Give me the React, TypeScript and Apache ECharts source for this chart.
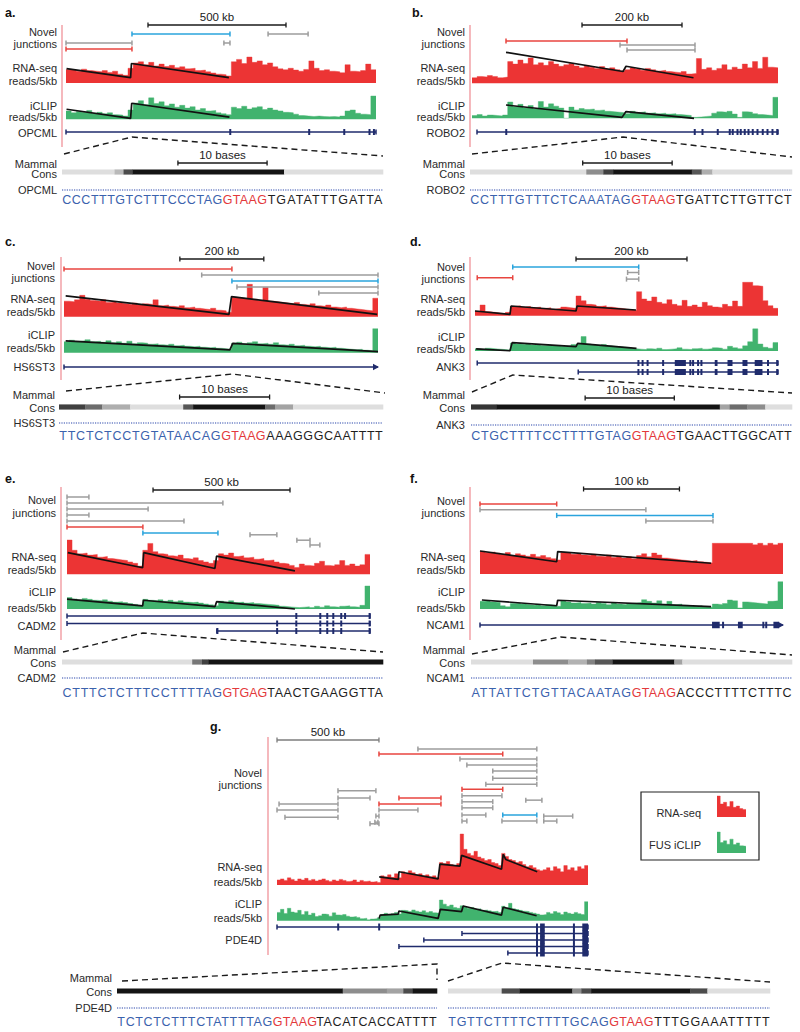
import React, { useEffect, useRef } from 'react';
import * as echarts from 'echarts';

// ================= DATA =================
// junction type: 0 = novel (grey), 1 = red, 2 = blue
// ---- a. OPCML ----
const aScaleKb = [297, 797];
const aJunctions = [[239, 594, 0, 2], [732, 877, 0, 0], [0, 239, 1.2, 0], [572, 594, 1.2, 0], [0, 239, 2, 1]];
const aRna = [46, 44, 40, 47, 42, 40, 38, 42, 36, 40, 30, 26, 50, 68, 72, 62, 70, 58, 64, 56, 60, 52, 55, 48, 50, 42, 44, 38, 34, 30, 28, 24, 72, 80, 66, 88, 70, 75, 62, 68, 55, 48, 45, 50, 44, 40, 46, 75, 50, 42, 45, 40, 38, 35, 62, 40, 38, 42, 64, 45];
const aIclip = [36, 28, 34, 30, 38, 26, 30, 24, 28, 20, 18, 14, 40, 70, 80, 62, 92, 68, 75, 58, 66, 52, 60, 48, 54, 40, 46, 36, 38, 28, 24, 20, 52, 46, 56, 44, 50, 54, 42, 48, 40, 36, 30, 28, 22, 16, 14, 12, 14, 12, 11, 12, 10, 14, 36, 40, 26, 22, 20, 100];
const aRnaFit = [[2, 49], [234, 18], [237, 66], [590, 18]];
const aIclipFit = [[2, 43], [234, 4], [238, 69], [592, 9]];
const aGenes = [[0, 1123, 0, 0]];
const aExons = [[594, 596, 0], [880, 882, 0], [1007, 1009, 0], [1098, 1101, 0], [1112, 1119, 0]];
const aCons = [[0, 5.9, 0.08], [5.9, 6.9, 0.25], [6.9, 7.9, 0.75], [7.9, 24.9, 1], [24.9, 36, 0.08]];
const aBaseScale = [13, 23];
const aSeq = ['CCCTTTGTCTTTCCCTAG', 'GTAAG', 'TGATATTTGATTA'];

// ---- b. ROBO2 ----
const bScaleKb = [220, 420];
const bJunctions = [[68, 310, 0, 1], [296, 446, 0.9, 0], [310, 446, 2, 0]];
const bRna = [18, 22, 20, 25, 22, 18, 20, 70, 62, 75, 64, 82, 60, 66, 58, 70, 62, 55, 60, 64, 56, 50, 58, 52, 48, 54, 46, 50, 44, 40, 44, 50, 46, 42, 48, 44, 40, 42, 38, 36, 34, 38, 30, 32, 80, 45, 50, 42, 48, 60, 44, 52, 46, 62, 50, 70, 48, 84, 52, 50];
const bIclip = [12, 16, 10, 14, 12, 10, 14, 70, 50, 60, 45, 55, 40, 72, 48, 62, 52, 44, 0, 48, 36, 42, 38, 40, 34, 36, 30, 28, 26, 24, 20, 30, 25, 28, 22, 24, 20, 22, 18, 20, 16, 14, 12, 4, 6, 8, 10, 22, 28, 26, 30, 18, 4, 28, 26, 20, 16, 14, 12, 90];
const bRnaFit = [[68, 100], [302, 38], [308, 55], [443, 18]];
const bIclipFit = [[68, 57], [300, 4], [308, 29], [444, 0]];
const bGenes = [[10, 612, 0, 0]];
const bExons = [[68, 69, 0], [444, 447, 0], [460, 462, 0], [490, 493, 0], [514, 517, 0], [520, 523, 0], [530, 532, 0], [536, 539, 0], [544, 547, 0], [552, 554, 0], [560, 563, 0], [570, 572, 0], [580, 583, 0], [590, 592, 0], [600, 602, 0], [609, 612, 0]];
const bCons = [[0, 13, 0.08], [13, 14.9, 0.45], [14.9, 16, 0.8], [16, 24.8, 1], [24.8, 25.9, 0.7], [25.9, 27.1, 0.3], [27.1, 36, 0.08]];
const bBaseScale = [12.6, 22.6];
const bSeq = ['CCTTTGTTTCTCAAATAG', 'GTAAG', 'TGATTCTTGTTCT'];

// ---- c. HS6ST3 ----
const cScaleKb = [276, 476];
const cJunctions = [[0, 400, 0, 1], [328, 748, 1, 0], [400, 748, 2, 2], [412, 748, 3, 0], [607, 748, 4, 0]];
const cRna = [48, 46, 52, 66, 54, 50, 48, 52, 44, 46, 42, 40, 38, 42, 36, 40, 38, 52, 34, 36, 32, 30, 34, 28, 30, 26, 24, 22, 26, 20, 18, 14, 60, 58, 56, 100, 54, 50, 90, 48, 46, 44, 42, 40, 44, 38, 36, 40, 34, 32, 36, 30, 28, 30, 26, 24, 22, 20, 18, 57];
const cIclip = [44, 50, 46, 48, 52, 44, 46, 42, 48, 40, 44, 38, 46, 36, 40, 38, 34, 36, 32, 30, 34, 28, 30, 26, 24, 26, 22, 20, 22, 18, 16, 14, 38, 42, 36, 40, 44, 36, 38, 34, 40, 32, 30, 34, 28, 30, 26, 24, 26, 22, 20, 22, 18, 16, 14, 12, 14, 10, 8, 96];
const cRnaFit = [[4, 64], [393, 7], [399, 62], [746, 7]];
const cIclipFit = [[4, 47], [395, 11], [402, 37], [748, 4]];
const cGenes = [[0, 748, 0, 1]];
const cExons: number[][] = [];
const cCons = [[0, 2.9, 0.8], [2.9, 4.8, 0.6], [4.8, 7.9, 0.3], [7.9, 13.8, 0.08], [13.8, 14.9, 0.7], [14.9, 22.9, 1], [22.9, 24, 0.6], [24, 26, 0.35], [26, 36, 0.08]];
const cBaseScale = [13.4, 23.4];
const cSeq = ['TTCTCTCCTGTATAACAG', 'GTAAG', 'AAAGGGCAATTTT'];

// ---- d. ANK3 ----
const dScaleKb = [182, 382];
const dJunctions = [[68, 295, 0, 2], [275, 295, 1, 0], [4, 68, 1.95, 1], [273, 295, 2.2, 0]];
const dRna = [14, 32, 12, 10, 8, 6, 10, 28, 30, 26, 28, 24, 26, 22, 24, 20, 22, 26, 24, 22, 59, 45, 34, 32, 28, 30, 26, 24, 22, 20, 18, 16, 72, 50, 44, 56, 40, 36, 48, 34, 30, 46, 28, 32, 26, 40, 30, 26, 24, 34, 28, 44, 28, 100, 100, 90, 88, 45, 30, 22];
const dIclip = [10, 8, 12, 10, 8, 6, 4, 34, 30, 28, 32, 26, 28, 24, 26, 22, 24, 20, 22, 28, 30, 62, 30, 26, 24, 28, 22, 20, 18, 16, 14, 10, 8, 6, 10, 8, 12, 6, 8, 10, 14, 8, 6, 10, 12, 8, 10, 14, 12, 8, 20, 14, 10, 22, 40, 95, 30, 16, 12, 36];
const dRnaFit = [[0, 14], [63, 4], [65, 29], [182, 14], [184, 29], [290, 17]];
const dIclipFit = [[2, 9], [63, 1], [67, 36], [182, 19], [185, 33], [291, 11]];
const dGenes = [[4, 546, 0, 0], [186, 546, 1, 0]];
const dExonSpans = [[293, 296], [301, 303], [310, 312], [338, 340], [360, 380], [387, 389], [392, 394], [401, 403], [407, 409], [432, 437], [455, 464], [482, 491], [504, 518], [527, 529], [543, 546]];
const dCons = [[0, 2.9, 0.85], [2.9, 27.9, 1], [27.9, 29, 0.35], [29, 31, 0.6], [31, 33, 0.45], [33, 36, 0.08]];
const dBaseScale = [12.8, 22.8];
const dSeq = ['CTGCTTTTCCTTTTGTAG', 'GTAAG', 'TGAACTTGGCATT'];

// ---- e. CADM2 ----
const eScaleKb = [314, 814];
const eJunctions = [[0, 80, 0, 0], [0, 569, 1, 0], [0, 296, 2, 0], [0, 80, 3, 0], [0, 427, 4, 0], [0, 277, 5, 1], [277, 551, 6, 2], [668, 766, 6.3, 0], [839, 887, 7.2, 0], [887, 923, 8, 0]];
const eRna = [100, 70, 60, 62, 56, 58, 50, 52, 46, 44, 42, 40, 36, 32, 24, 70, 90, 66, 60, 58, 54, 52, 56, 46, 44, 48, 40, 36, 32, 40, 60, 56, 62, 52, 54, 48, 50, 44, 46, 40, 42, 36, 32, 30, 26, 20, 30, 26, 24, 32, 38, 26, 24, 28, 40, 26, 30, 24, 28, 58];
const eIclip = [50, 44, 40, 46, 42, 38, 36, 40, 34, 30, 32, 28, 24, 20, 16, 42, 38, 36, 40, 34, 38, 32, 36, 30, 28, 30, 26, 22, 18, 14, 34, 30, 36, 28, 30, 26, 28, 24, 22, 20, 18, 16, 12, 10, 8, 6, 8, 10, 6, 12, 8, 14, 10, 8, 12, 14, 10, 8, 16, 100];
const eRnaFit = [[3, 63], [276, 19], [280, 63], [540, 17], [546, 53], [832, 10]];
const eIclipFit = [[0, 43], [276, 14], [279, 38], [540, 10], [546, 32], [832, 0]];
const eGenes = [[0, 1106, 0, 0], [0, 1106, 1, 0], [547, 1106, 2, 0]];
const eExons = [[836, 838, 0], [923, 926, 0], [949, 951, 0], [971, 973, 0], [1000, 1002, 0], [1014, 1016, 0], [1103, 1106, 0], [766, 768, 1], [836, 838, 1], [923, 926, 1], [949, 951, 1], [971, 973, 1], [1000, 1002, 1], [1103, 1106, 1], [547, 551, 2], [766, 768, 2], [836, 838, 2], [923, 926, 2], [949, 951, 2], [971, 973, 2], [1000, 1002, 2], [1103, 1106, 2]];
const eCons = [[0, 14.6, 0.08], [14.6, 15.7, 0.55], [15.7, 16.4, 0.8], [16.4, 36, 1]];
const eSeq = ['CTTTCTCTTTCCTTTTAG', 'GTGAG', 'TAACTGAAGGTTA'];

// ---- f. NCAM1 ----
const fScaleKb = [108, 208];
const fJunctions = [[0, 80, 0, 1], [0, 173, 1, 0], [80, 243, 2, 2], [173, 243, 3, 0]];
const fRna = [74, 70, 72, 68, 64, 70, 60, 66, 62, 58, 64, 56, 60, 54, 50, 46, 70, 68, 64, 66, 62, 60, 64, 58, 56, 62, 54, 58, 52, 56, 50, 60, 66, 56, 68, 62, 52, 50, 48, 46, 44, 42, 44, 40, 38, 36, 100, 100, 100, 100, 100, 100, 100, 100, 95, 100, 94, 100, 95, 100];
const fIclip = [28, 30, 26, 24, 12, 8, 20, 22, 18, 16, 14, 18, 12, 16, 14, 10, 30, 26, 22, 24, 20, 22, 18, 24, 20, 16, 22, 18, 16, 20, 22, 24, 34, 28, 22, 30, 18, 28, 16, 18, 14, 12, 10, 12, 8, 6, 18, 16, 20, 33, 30, 4, 26, 24, 22, 20, 18, 28, 30, 100];
const fRnaFit = [[0, 75], [80, 40], [81, 73], [241, 35]];
const fIclipFit = [[2, 33], [80, 12], [81, 32], [241, 9]];
const fGenes = [[0, 316, 0, 1]];
const fExons = [[242, 250, 0], [253, 254, 0], [269, 274, 0], [295, 296, 0], [298, 299, 0], [306, 312, 0]];
const fCons = [[0, 6.95, 0.08], [6.95, 10.9, 0.45], [10.9, 13, 0.28], [13, 13.9, 0.5], [13.9, 15.9, 0.7], [15.9, 22.8, 1], [22.8, 23.7, 0.35], [23.7, 36, 0.08]];
const fSeq = ['ATTATTCTGTTACAATAG', 'GTAAG', 'ACCCTTTTCTTTC'];

// ---- g. PDE4D ----
const gScaleKb = [0, 500];
const gJunctions = [[691, 1274, 0, 0], [500, 1107, 0.9, 1], [897, 1274, 1.8, 0], [931, 1274, 2.9, 0], [1058, 1274, 4, 0], [1058, 1274, 5.3, 0], [1024, 1274, 6.4, 0], [907, 1107, 7.3, 1], [299, 485, 7.6, 0], [907, 1103, 8.5, 0], [299, 456, 8.9, 0], [598, 804, 8.9, 1], [1220, 1299, 9.3, 0], [907, 1058, 9.6, 0], [500, 804, 10, 1], [10, 299, 10, 0], [907, 1058, 10.7, 0], [500, 691, 11.1, 0], [0, 299, 11.1, 0], [1107, 1274, 12, 2], [907, 1024, 12, 0], [1308, 1450, 12.2, 0], [39, 299, 12.4, 0], [485, 500, 12.2, 0], [907, 931, 13.1, 0], [1103, 1274, 13.1, 0], [1308, 1372, 13.1, 0], [480, 495, 13.3, 0], [456, 500, 13.6, 0]];
const gRna = [10, 12, 9, 14, 11, 8, 12, 10, 13, 9, 11, 8, 10, 12, 9, 7, 10, 8, 11, 9, 7, 8, 10, 6, 9, 7, 8, 6, 7, 5, 18, 16, 20, 15, 22, 14, 26, 22, 28, 24, 20, 22, 18, 20, 16, 18, 14, 44, 42, 46, 40, 38, 42, 100, 70, 62, 58, 66, 55, 52, 48, 50, 44, 42, 38, 62, 56, 50, 48, 44, 46, 40, 36, 38, 34, 30, 28, 30, 34, 28, 36, 32, 26, 38, 30, 34, 28, 36, 32, 38];
const gIclip = [40, 55, 35, 60, 42, 38, 50, 30, 45, 28, 36, 20, 24, 32, 30, 22, 38, 28, 26, 30, 22, 18, 20, 16, 10, 12, 4, 8, 10, 14, 30, 36, 28, 34, 40, 32, 50, 48, 44, 52, 46, 42, 48, 40, 44, 38, 36, 100, 80, 70, 76, 64, 60, 72, 66, 60, 64, 56, 58, 50, 52, 48, 44, 46, 40, 70, 62, 84, 58, 54, 50, 46, 44, 40, 36, 32, 28, 30, 40, 34, 44, 38, 30, 42, 36, 32, 40, 34, 30, 92];
const gRnaFit = [[501, 16], [595, 11], [598, 26], [790, 12], [799, 41], [897, 37], [905, 58], [1101, 31], [1109, 60], [1122, 50], [1276, 26]];
const gIclipFit = [[501, 11], [506, 27], [595, 32], [598, 47], [790, 11], [801, 55], [905, 44], [913, 71], [1101, 27], [1109, 65], [1273, 24]];
const gGenes = [[0, 1525, 0, 0], [907, 1525, 1, 0], [720, 1525, 2, 0], [598, 1525, 3, 0], [1132, 1525, 4, 0]];
const gFirstRowExons = [[299, 301, 0], [500, 502, 0]];
const gSharedExonSpans = [[1274, 1276], [1290, 1313], [1455, 1457], [1497, 1525]];
const gLeftCons = [[0, 26.1, 1], [26.1, 31.2, 0.45], [31.2, 33.1, 0.35], [33.1, 34.2, 0.75], [34.2, 37, 1]];
const gRightCons = [[0, 6, 0.08], [6, 8, 0.75], [8, 13.9, 1], [13.9, 14.9, 0.45], [14.9, 16, 0.75], [16, 27.1, 1], [27.1, 29, 0.75], [29, 36, 0.08]];
const gLeftSeq = ['TCTCTCTTTCTATTTTAG', 'GTAAG', 'TACATCACCATTTT'];
const gRightSeq = ['TGTTCTTTTCTTTTGCAG', 'GTAAG', 'TTTGGAAATTTTT'];

// legend icons
const legendRnaIcon = [100, 62, 70, 50, 74, 46, 52, 40, 36];
const legendIclipIcon = [100, 50, 58, 42, 66, 40, 48, 34, 32];

// ================= STYLE =================
const FONT = '"Liberation Sans", Arial, Helvetica, sans-serif';
const RED = '#ec3434';
const GREEN = '#41b36e';
const NAVY = '#1f2b6c';
const PINK = '#f3a7ad';
const JUNC_COLORS = ['#9d9d9d', '#e8453f', '#2aa4dd', '#1a1a1a', '#7c7c7c'];
const SEQ_COLORS = ['#3b62ad', '#e3393b', '#1e1e1e'];
const SEQ_SIZE = 12.5;
const LABEL_SIZE = 11;

const gray = (lv: number) => {
  const v = Math.round(240 - 220 * lv);
  return `rgb(${v},${v},${v})`;
};

function txt(x: number, y: number, text: string, o: any = {}) {
  const align = o.align || 'right';
  return {
    type: 'text', x, y, silent: true, z: 10,
    style: {
      text, fill: o.fill || '#2a2a2a', fontSize: o.size || LABEL_SIZE, fontFamily: FONT,
      fontWeight: o.weight || 'normal', align, textAlign: align,
      verticalAlign: 'middle', textVerticalAlign: 'middle',
    },
  };
}
function gline(x1: number, y1: number, x2: number, y2: number, stroke: string, lw: number, dash?: number[]) {
  return { type: 'line', silent: true, shape: { x1, y1, x2, y2 }, style: { stroke, lineWidth: lw, lineDash: dash || null } };
}
function dashed(points: number[][]) {
  return { type: 'polyline', silent: true, shape: { points }, style: { stroke: '#1a1a1a', lineWidth: 1.4, lineDash: [6, 4], fill: 'none' } };
}

const intervalRender = (lw: number, tick: number, label?: string) => (params: any, api: any) => {
  const row = api.value(2);
  const kind = api.value(3);
  const s = api.coord([api.value(0), row]);
  const e = api.coord([api.value(1), row]);
  const st = { stroke: JUNC_COLORS[kind] || '#999', lineWidth: lw };
  const ch: any[] = [
    { type: 'line', shape: { x1: s[0], y1: s[1], x2: e[0], y2: e[1] }, style: st },
    { type: 'line', shape: { x1: s[0], y1: s[1] - tick, x2: s[0], y2: s[1] + tick }, style: st },
    { type: 'line', shape: { x1: e[0], y1: e[1] - tick, x2: e[0], y2: e[1] + tick }, style: st },
  ];
  if (label) {
    ch.push({
      type: 'text', x: (s[0] + e[0]) / 2, y: s[1] - 8,
      style: { text: label, fill: '#1a1a1a', fontSize: 11.5, fontFamily: FONT, align: 'center', textAlign: 'center', verticalAlign: 'middle', textVerticalAlign: 'middle' },
    });
  }
  return { type: 'group', children: ch };
};

const geneRender = (params: any, api: any) => {
  const row = api.value(2);
  const arrow = api.value(3);
  const s = api.coord([api.value(0), row]);
  const e = api.coord([api.value(1), row]);
  const st = { stroke: NAVY, lineWidth: 1.5 };
  const ch: any[] = [
    { type: 'line', shape: { x1: s[0], y1: s[1], x2: e[0], y2: e[1] }, style: st },
    { type: 'line', shape: { x1: s[0], y1: s[1] - 2.5, x2: s[0], y2: s[1] + 2.5 }, style: st },
  ];
  if (arrow) {
    ch.push({ type: 'polygon', shape: { points: [[e[0] - 5, e[1] - 3.2], [e[0] + 1, e[1]], [e[0] - 5, e[1] + 3.2]] }, style: { fill: NAVY } });
  } else {
    ch.push({ type: 'line', shape: { x1: e[0], y1: e[1] - 2.5, x2: e[0], y2: e[1] + 2.5 }, style: st });
  }
  return { type: 'group', children: ch };
};

const exonRender = (h: number) => (params: any, api: any) => {
  const row = api.value(2);
  const s = api.coord([api.value(0), row]);
  const e = api.coord([api.value(1), row]);
  let x = s[0];
  let w = e[0] - s[0];
  if (w < 2) { x = (s[0] + e[0]) / 2 - 1; w = 2; }
  return { type: 'rect', shape: { x, y: s[1] - h / 2, width: w, height: h }, style: { fill: NAVY } };
};

const consRender = (params: any, api: any) => {
  const row = api.value(2);
  const s = api.coord([api.value(0), row]);
  const e = api.coord([api.value(1), row]);
  return { type: 'rect', shape: { x: s[0], y: s[1] - 2.6, width: e[0] - s[0] + 0.3, height: 5.2 }, style: { fill: gray(api.value(3)) } };
};

// ================= PANELS (layout) =================
const PANELS: any[] = [
  { id: 'a', letter: [5, 13], x0: 66, x1: 376, L: 1123, labelR: 57, pink: [62, 25, 147],
    scale: { y: 25, kb: aScaleKb, label: '500 kb', kind: 3 },
    junc: { y0: 34, step: 7.5, nRows: 3, data: aJunctions },
    rna: { top: 53.5, bottom: 83, vals: aRna, fit: aRnaFit },
    iclip: { top: 96, bottom: 119.3, vals: aIclip, fit: aIclipFit },
    gene: { name: 'OPCML', y0: 132, step: 8, nRows: 1, labelY: 133, genes: aGenes, exons: aExons, exonH: 6 },
    labels: { novel: [32, 44], rna: [68, 81], iclip: [106, 117] },
    zoom: [[[64, 154], 'peak:239:137', [383, 156]]],
    cons: { y: 172, scaleY: 163, baseScale: aBaseScale, labelR: 57, mammal: [164, 174], geneY: 190, seqY: 200,
      blocks: [{ x0: 62, x1: 383, n: 36, data: aCons, seq: aSeq }] } },
  { id: 'b', letter: [412, 13], x0: 472, x1: 778, L: 612, labelR: 465, pink: [470, 25, 147],
    scale: { y: 25, kb: bScaleKb, label: '200 kb', kind: 3 },
    junc: { y0: 41, step: 4.5, nRows: 3, data: bJunctions },
    rna: { top: 52.3, bottom: 83.3, vals: bRna, fit: bRnaFit },
    iclip: { top: 95, bottom: 118.3, vals: bIclip, fit: bIclipFit },
    gene: { name: 'ROBO2', y0: 132, step: 8, nRows: 1, labelY: 133, genes: bGenes, exons: bExons, exonH: 6 },
    labels: { novel: [32, 44], rna: [68, 81], iclip: [106, 117] },
    zoom: [[[472, 154], 'peak:302:137', [792, 157]]],
    cons: { y: 172, scaleY: 163, baseScale: bBaseScale, labelR: 465, mammal: [164, 174], geneY: 190, seqY: 200,
      blocks: [{ x0: 470, x1: 792, n: 36, data: bCons, seq: bSeq }] } },
  { id: 'c', letter: [5, 242], x0: 64, x1: 378, L: 748, labelR: 55, pink: [61, 257, 380],
    scale: { y: 259, kb: cScaleKb, label: '200 kb', kind: 3 },
    junc: { y0: 269, step: 6, nRows: 5, data: cJunctions },
    rna: { top: 284.3, bottom: 316.7, vals: cRna, fit: cRnaFit },
    iclip: { top: 327.7, bottom: 352.7, vals: cIclip, fit: cIclipFit },
    gene: { name: 'HS6ST3', y0: 367, step: 8, nRows: 1, labelY: 367, genes: cGenes, exons: cExons, exonH: 6 },
    labels: { novel: [266, 278], rna: [299, 312], iclip: [335, 348] },
    zoom: [[[66, 391], 'peak:400:374', [385, 393]]],
    cons: { y: 407, scaleY: 397, baseScale: cBaseScale, labelR: 55, mammal: [395, 408], geneY: 423, seqY: 436,
      blocks: [{ x0: 59, x1: 383, n: 36, data: cCons, seq: cSeq }] } },
  { id: 'd', letter: [410, 242], x0: 475, x1: 778, L: 546, labelR: 465, pink: [470, 257, 380],
    scale: { y: 259, kb: dScaleKb, label: '200 kb', kind: 3 },
    junc: { y0: 267, step: 5.5, nRows: 3, data: dJunctions },
    rna: { top: 282.3, bottom: 315.7, vals: dRna, fit: dRnaFit },
    iclip: { top: 327.7, bottom: 351, vals: dIclip, fit: dIclipFit },
    gene: { name: 'ANK3', y0: 363, step: 9, nRows: 2, labelY: 367, genes: dGenes,
      exons: dExonSpans.map((s) => [s[0], s[1], 0]).concat(dExonSpans.map((s) => [s[0], s[1], 1])), exonH: 6 },
    labels: { novel: [267, 279], rna: [299, 312], iclip: [337, 349] },
    zoom: [[[472, 392], 'peak:68:375', [792, 393]]],
    cons: { y: 407, scaleY: 398, baseScale: dBaseScale, labelR: 465, mammal: [395, 408], geneY: 425, seqY: 436,
      blocks: [{ x0: 471, x1: 792, n: 36, data: dCons, seq: dSeq }] } },
  { id: 'e', letter: [5, 479], x0: 67, x1: 370, L: 1106, labelR: 56, pink: [61, 487, 640],
    scale: { y: 490, kb: eScaleKb, label: '500 kb', kind: 3 },
    junc: { y0: 497, step: 6, nRows: 9, data: eJunctions },
    rna: { top: 540, bottom: 574.3, vals: eRna, fit: eRnaFit },
    iclip: { top: 586, bottom: 609, vals: eIclip, fit: eIclipFit },
    gene: { name: 'CADM2', y0: 616, step: 7.5, nRows: 3, labelY: 626, genes: eGenes, exons: eExons, exonH: 6 },
    labels: { novel: [500, 513], rna: [557, 570], iclip: [592, 608] },
    zoom: [[[63, 652], 'peak:277:633', [383, 652]]],
    cons: { y: 662, scaleY: 653, baseScale: null, labelR: 56, mammal: [650, 663], geneY: 678, seqY: 693,
      blocks: [{ x0: 62, x1: 383, n: 36, data: eCons, seq: eSeq }] } },
  { id: 'f', letter: [410, 479], x0: 480, x1: 783, L: 316, labelR: 465, pink: [470, 487, 640],
    scale: { y: 489, kb: fScaleKb, label: '100 kb', kind: 3 },
    junc: { y0: 504, step: 5.7, nRows: 4, data: fJunctions },
    rna: { top: 543.3, bottom: 574, vals: fRna, fit: fRnaFit },
    iclip: { top: 581.7, bottom: 609, vals: fIclip, fit: fIclipFit },
    gene: { name: 'NCAM1', y0: 625, step: 8, nRows: 1, labelY: 625, genes: fGenes, exons: fExons, exonH: 6.5 },
    labels: { novel: [501, 513], rna: [557, 570], iclip: [592, 608] },
    zoom: [[[472, 654], 'peak:84:637', [792, 655]]],
    cons: { y: 662, scaleY: 653, baseScale: null, labelR: 465, mammal: [650, 663], geneY: 678, seqY: 693,
      blocks: [{ x0: 471, x1: 792, n: 36, data: fCons, seq: fSeq }] } },
  { id: 'g', letter: [210, 727], x0: 277, x1: 588, L: 1525, labelR: 262, pink: [268, 737, 955],
    scale: { y: 740, kb: gScaleKb, label: '500 kb', kind: 4 },
    junc: { y0: 749, step: 5.5, nRows: 14, data: gJunctions },
    rna: { top: 834, bottom: 885, vals: gRna, fit: gRnaFit },
    iclip: { top: 900, bottom: 920.7, vals: gIclip, fit: gIclipFit },
    gene: { name: 'PDE4D', y0: 927, step: 6.5, nRows: 5, labelY: 940, genes: gGenes,
      exons: gFirstRowExons.concat(...[0, 1, 2, 3, 4].map((r) => gSharedExonSpans.map((s) => [s[0], s[1], r]))), exonH: 7 },
    labels: { novel: [773, 785], rna: [867, 882], iclip: [904, 918] },
    zoom: [[[122, 981], [437, 964], [437, 980]], [[448, 981], [502, 963], [770, 982]]],
    cons: { y: 991, scaleY: 982, baseScale: null, labelR: 112, mammal: [978, 992], geneY: 1008, seqY: 1022,
      blocks: [{ x0: 117, x1: 437, n: 37, data: gLeftCons, seq: gLeftSeq }, { x0: 448, x1: 770, n: 36, data: gRightCons, seq: gRightSeq }] } },
];

// ================= OPTION BUILDER =================
function buildOption() {
  const grid: any[] = [];
  const xAxis: any[] = [];
  const yAxis: any[] = [];
  const series: any[] = [];
  const elements: any[] = [];
  const spacing = new Map<string, number>();

  const canvas = document.createElement('canvas');
  const ctx = canvas.getContext('2d')!;
  ctx.font = `${SEQ_SIZE}px "Liberation Sans"`;

  const addGrid = (left: number, right: number, top: number, bottom: number, xMin: number, xMax: number, yMin: number, yMax: number, inverse: boolean) => {
    const idx = grid.length;
    grid.push({ left, top, width: right - left, height: bottom - top, show: false, containLabel: false });
    xAxis.push({ type: 'value', gridIndex: idx, min: xMin, max: xMax, show: false });
    yAxis.push({ type: 'value', gridIndex: idx, min: yMin, max: yMax, inverse, show: false });
    return idx;
  };
  const rowGrid = (left: number, right: number, y0: number, step: number, nRows: number, xMax: number) =>
    addGrid(left, right, y0 - step / 2, y0 - step / 2 + nRows * step, 0, xMax, -0.5, nRows - 0.5, true);
  const custom = (gi: number, data: any[], renderItem: any, z = 3) => ({
    type: 'custom', xAxisIndex: gi, yAxisIndex: gi, data, renderItem, silent: true, clip: false,
    encode: { x: [0, 1], y: 2 }, z,
  });
  const hist = (gi: number, vals: number[], L: number, color: string) => {
    const n = vals.length;
    const d = vals.map((v, i) => [(i * L) / n, v]);
    d.push([L, vals[n - 1]]);
    return {
      type: 'line', xAxisIndex: gi, yAxisIndex: gi, data: d, step: 'end', symbol: 'none', showSymbol: false,
      silent: true, clip: false, lineStyle: { width: 0.4, color }, areaStyle: { color, opacity: 1 }, z: 2,
    };
  };
  const fit = (gi: number, data: number[][]) => ({
    type: 'line', xAxisIndex: gi, yAxisIndex: gi, data, symbol: 'none', showSymbol: false, silent: true, clip: false,
    lineStyle: { color: '#111', width: 1.7 }, z: 5,
  });

  PANELS.forEach((P) => {
    const L = P.L;
    elements.push(txt(P.letter[0], P.letter[1], P.id + '.', { align: 'left', size: 12.5, weight: 'bold', fill: '#111' }));
    elements.push(gline(P.pink[0], P.pink[1], P.pink[0], P.pink[2], PINK, 1.6));

    // scale bar
    const sg = rowGrid(P.x0, P.x1, P.scale.y, 6, 1, L);
    series.push(custom(sg, [[P.scale.kb[0], P.scale.kb[1], 0, P.scale.kind]], intervalRender(1.3, 2.5, P.scale.label)));

    // junctions
    const jg = rowGrid(P.x0, P.x1, P.junc.y0, P.junc.step, P.junc.nRows, L);
    const jd = P.junc.data.slice().sort((u: number[], v: number[]) => (u[3] === 0 ? 0 : 1) - (v[3] === 0 ? 0 : 1));
    series.push(custom(jg, jd, intervalRender(1.5, 2.5)));

    // RNA-seq
    const rg = addGrid(P.x0, P.x1, P.rna.top, P.rna.bottom, 0, L, 0, 100, false);
    series.push(hist(rg, P.rna.vals, L, RED));
    series.push(fit(rg, P.rna.fit));
    // iCLIP
    const ig = addGrid(P.x0, P.x1, P.iclip.top, P.iclip.bottom, 0, L, 0, 100, false);
    series.push(hist(ig, P.iclip.vals, L, GREEN));
    series.push(fit(ig, P.iclip.fit));

    // genes
    const gg = rowGrid(P.x0, P.x1, P.gene.y0, P.gene.step, P.gene.nRows, L);
    series.push(custom(gg, P.gene.genes, geneRender, 3));
    if (P.gene.exons.length) series.push(custom(gg, P.gene.exons, exonRender(P.gene.exonH), 4));

    // track labels
    const R = P.labelR;
    elements.push(txt(R, P.labels.novel[0], 'Novel'));
    elements.push(txt(R, P.labels.novel[1], 'junctions'));
    elements.push(txt(R, P.labels.rna[0], 'RNA-seq'));
    elements.push(txt(R, P.labels.rna[1], 'reads/5kb'));
    elements.push(txt(R, P.labels.iclip[0], 'iCLIP'));
    elements.push(txt(R, P.labels.iclip[1], 'reads/5kb'));
    elements.push(txt(R, P.gene.labelY, P.gene.name));

    // zoom connectors
    P.zoom.forEach((z: any[]) => {
      const pts = z.map((p: any) => {
        if (typeof p === 'string') {
          const [, kb, y] = p.split(':').map(Number);
          return [P.x0 + (kb / L) * (P.x1 - P.x0), y];
        }
        return p;
      });
      elements.push(dashed(pts));
    });

    // conservation + sequence
    const C = P.cons;
    elements.push(txt(C.labelR, C.mammal[0], 'Mammal'));
    elements.push(txt(C.labelR, C.mammal[1], 'Cons'));
    elements.push(txt(C.labelR, C.geneY, P.gene.name));
    C.blocks.forEach((B: any, bi: number) => {
      const cg = rowGrid(B.x0, B.x1, C.scaleY, C.y - C.scaleY, 2, B.n);
      series.push(custom(cg, B.data.map((d: number[]) => [d[0], d[1], 1, d[2]]), consRender, 3));
      if (C.baseScale && bi === 0) {
        series.push(custom(cg, [[C.baseScale[0], C.baseScale[1], 0, 3]], intervalRender(1.3, 2.5, '10 bases')));
      }
      elements.push(gline(B.x0, C.geneY, B.x1, C.geneY, '#7184c7', 1.6, [1.2, 1.2]));
      const pitch = (B.x1 - B.x0) / B.n;
      let idx = 0;
      B.seq.forEach((part: string, pi: number) => {
        const w = ctx.measureText(part).width;
        const ls = (part.length * pitch - w) / part.length;
        spacing.set(part, ls);
        elements.push(txt(B.x0 + idx * pitch + ls / 2, C.seqY, part, { align: 'left', size: SEQ_SIZE, fill: SEQ_COLORS[pi] }));
        idx += part.length;
      });
    });
  });

  // legend
  elements.push({ type: 'rect', silent: true, shape: { x: 641, y: 792, width: 118, height: 68 }, style: { fill: 'none', stroke: '#222', lineWidth: 1.2 } });
  elements.push(txt(701, 813, 'RNA-seq'));
  elements.push(txt(701, 845, 'FUS iCLIP'));
  const lg1 = addGrid(717, 746, 796, 817, 0, legendRnaIcon.length, 0, 100, false);
  series.push(hist(lg1, legendRnaIcon, legendRnaIcon.length, RED));
  const lg2 = addGrid(717, 746, 832, 853, 0, legendIclipIcon.length, 0, 100, false);
  series.push(hist(lg2, legendIclipIcon, legendIclipIcon.length, GREEN));

  const option = {
    animation: false,
    backgroundColor: '#ffffff',
    tooltip: { show: false },
    grid, xAxis, yAxis, series,
    graphic: { elements },
  };
  return { option, spacing };
}

export default function App() {
  const ref = useRef<HTMLDivElement>(null);
  useEffect(() => {
    const el = ref.current!;
    const chart = echarts.init(el, undefined, { renderer: 'svg' });
    const { option, spacing } = buildOption();
    chart.setOption(option as any);
    const apply = () => {
      el.querySelectorAll('text').forEach((t) => {
        const s = t.textContent || '';
        const ls = spacing.get(s);
        if (ls !== undefined) t.setAttribute('letter-spacing', ls.toFixed(2));
      });
    };
    apply();
    const raf = requestAnimationFrame(apply);
    const tm = setTimeout(apply, 60);
    return () => {
      cancelAnimationFrame(raf);
      clearTimeout(tm);
      chart.dispose();
    };
  }, []);
  return <div ref={ref} style={{ position: 'absolute', left: 0, top: 0, width: 800, height: 1032, background: '#fff' }} />;
}
